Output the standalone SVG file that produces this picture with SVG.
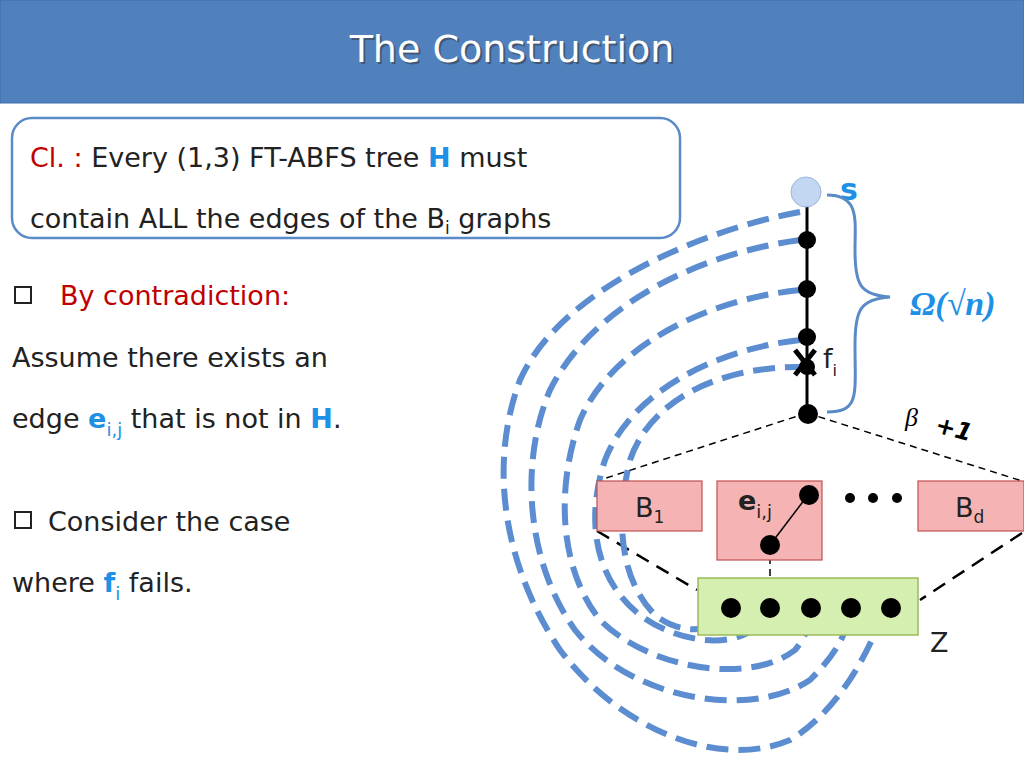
<svg xmlns="http://www.w3.org/2000/svg" width="1024" height="768" viewBox="0 0 1024 768">
<style>
.t{font-family:"DejaVu Sans","Liberation Sans",sans-serif;font-size:27px;fill:#222}
.bl{fill:#1e90e6}.rd{fill:#c00000}
.p{fill:none;stroke:#5b8dd0;stroke-width:6;stroke-dasharray:22,10}
.bd{fill:none;stroke:#000;stroke-dasharray:7,5;stroke-width:1.5}
.bd2{fill:none;stroke:#000;stroke-dasharray:14,9;stroke-width:2.5}
.box{fill:#f6b3b3;stroke:#c05050;stroke-width:1.2}
</style>
<rect width="1024" height="768" fill="#fff"/>
<rect x="0" y="0" width="1024" height="103" fill="#5181bd" stroke="#3f6ea8"/>
<text x="514" y="64" text-anchor="middle" font-family="DejaVu Sans,sans-serif" font-size="38" fill="#333" opacity="0.5">The Construction</text>
<text x="512" y="62" text-anchor="middle" font-family="DejaVu Sans,sans-serif" font-size="38" fill="#fff">The Construction</text>
<g id="claim">
<rect x="12" y="118" width="668" height="120" rx="20" fill="#fff" stroke="#5b8bc6" stroke-width="2.5"/>
<text x="30" y="167" class="t"><tspan class="rd">Cl. :</tspan> Every (1,3) FT-ABFS tree <tspan class="bl" font-weight="bold">H</tspan> must</text>
<text x="30" y="228" class="t">contain  ALL the edges of the B<tspan font-size="17" dy="6">i</tspan><tspan dy="-6"> graphs</tspan></text>
</g>
<g id="text">
<rect x="15" y="287" width="16" height="16" fill="none" stroke="#222" stroke-width="2"/>
<text x="60" y="305" class="t rd">By contradiction:</text>
<text x="12" y="367" class="t">Assume there exists an</text>
<text x="12" y="428" class="t">edge <tspan class="bl" font-weight="bold">e</tspan><tspan class="bl" font-size="18" dy="8">i,j</tspan><tspan dy="-8"> that is not in </tspan><tspan class="bl" font-weight="bold">H</tspan>.</text>
<rect x="15" y="512" width="16" height="16" fill="none" stroke="#222" stroke-width="2"/>
<text x="48" y="531" class="t">Consider the case</text>
<text x="12" y="592" class="t">where <tspan class="bl" font-weight="bold">f</tspan><tspan class="bl" font-size="18" dy="8">i</tspan><tspan dy="-8"> fails.</tspan></text>
</g>
<g id="connectors">
<line x1="807" y1="413" x2="597" y2="481" class="bd"/>
<line x1="807" y1="413" x2="1022" y2="481" class="bd"/>
<line x1="597" y1="531" x2="697" y2="590" class="bd2"/>
<line x1="1022" y1="533" x2="920" y2="600" class="bd2"/>
<line x1="770" y1="545" x2="770" y2="605" class="bd"/>
<path class="p" d="M800,212 C700,230 560,290 520,380 C490,460 500,560 560,650 C620,730 720,770 790,740 C840,710 870,650 885,608"/>
<path class="p" d="M800,240 C690,255 590,310 550,390 C520,460 525,560 575,630 C630,700 750,720 810,680 C840,650 848,630 850,608"/>
<path class="p" d="M800,290 C700,300 610,350 580,420 C555,490 560,570 600,620 C650,670 750,685 795,650 C808,635 810,620 811,608"/>
<path class="p" d="M800,340 C710,350 630,395 605,460 C585,520 595,580 640,615 C680,645 750,655 770,608"/>
<path class="p" d="M807,367 C720,365 650,400 630,460 C615,520 620,580 655,615 C680,635 715,635 731,608"/>
</g>
<g id="tree">
<line x1="807" y1="193" x2="807" y2="413" stroke="#000" stroke-width="3"/>
<circle cx="806" cy="192" r="15" fill="#c4d7f2" stroke="#9ab5dc"/>
<circle cx="807" cy="240" r="9"/><circle cx="807" cy="289" r="9"/><circle cx="807" cy="337" r="9"/><circle cx="807" cy="367" r="8"/><circle cx="808" cy="414" r="10"/>
<path d="M795,350 L815,375 M815,350 L795,375" stroke="#000" stroke-width="5"/>
<text x="823" y="368" class="t" font-size="26">f<tspan font-size="16" dy="8">i</tspan></text>
<text x="840" y="200" font-family="DejaVu Sans,sans-serif" font-size="30" font-weight="bold" class="bl">s</text>
<path d="M827,195 C860,195 855,220 855,250 C855,285 860,295 890,297 C860,299 855,310 855,345 C855,395 860,412 827,412" fill="none" stroke="#5b8bc6" stroke-width="3"/>
<text x="910" y="315" font-family="Liberation Serif,serif" font-size="34" font-weight="bold" font-style="italic" class="bl">Ω(√n)</text>
<text x="905" y="426" font-family="Liberation Serif,serif" font-size="26" font-style="italic">β</text>
<text x="935" y="436" font-family="DejaVu Sans,sans-serif" font-size="24" font-style="italic" font-weight="bold" transform="rotate(15 950 430)">+1</text>
</g>
<g id="B1"><rect x="597" y="481" width="105" height="50" class="box"/><text x="635" y="517" class="t">B<tspan font-size="17" dy="6">1</tspan></text></g>
<g id="Be"><rect x="717" y="481" width="105" height="79" class="box"/>
<text x="738" y="510" class="t" font-weight="bold">e<tspan font-size="18" dy="8" font-weight="normal">i,j</tspan></text>
<line x1="808" y1="495" x2="770" y2="545" stroke="#000" stroke-width="1.5"/>
<circle cx="809" cy="495" r="10"/><circle cx="770" cy="545" r="10"/></g>
<g id="dots"><circle cx="850" cy="498" r="5"/><circle cx="873" cy="498" r="5"/><circle cx="897" cy="498" r="5"/></g>
<g id="Bd"><rect x="918" y="481" width="106" height="50" class="box"/><text x="955" y="517" class="t">B<tspan font-size="17" dy="6">d</tspan></text></g>
<g id="Z"><rect x="698" y="578" width="220" height="57" fill="#d5efb0" stroke="#9bbb59" stroke-width="1.5"/>
<circle cx="731" cy="608" r="10"/><circle cx="770" cy="608" r="10"/><circle cx="811" cy="608" r="10"/><circle cx="851" cy="608" r="10"/><circle cx="891" cy="608" r="10"/>
<text x="930" y="652" class="t">Z</text></g>
</svg>
